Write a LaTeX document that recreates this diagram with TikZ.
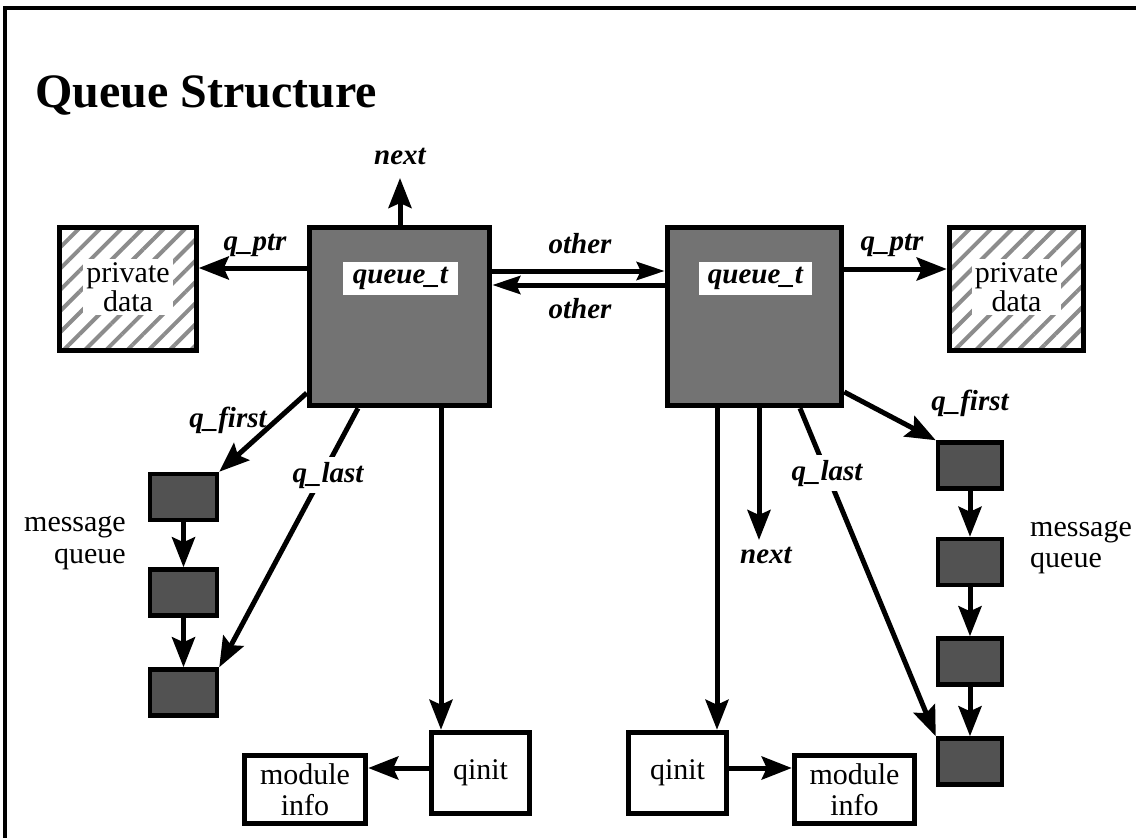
\documentclass[tikz,border=0pt]{standalone}
\usepackage{fontspec}
\setmainfont{Liberation Serif}
\usetikzlibrary{arrows.meta,patterns.meta}
\begin{document}
\begin{tikzpicture}[x=1pt,y=-1pt,
  conn/.style={line width=5pt, -{Stealth[length=30pt,width=23pt,inset=5pt]}},
  plainline/.style={line width=3.5pt},
  qbox/.style={draw, line width=5.5pt, fill=black!55, minimum height=178pt, inner sep=0pt},
  qlabel/.style={fill=white, inner sep=0pt, minimum height=33pt, font=\fontsize{29}{31}\selectfont\bfseries\itshape},
  pbox/.style={draw, line width=5pt, preaction={fill=white}, pattern={Lines[angle=45,distance=15pt,line width=4pt]}, pattern color=black!45, minimum height=123.5pt, inner sep=0pt},
  ptext/.style={fill=white, inner sep=3pt, align=center, font=\fontsize{30}{29}\selectfont},
  mbox/.style={draw, line width=4.5pt, fill=black!68, minimum height=46pt, inner sep=0pt},
  wbox/.style={draw, line width=5pt, fill=white, align=center, inner sep=0pt, font=\fontsize{30}{31}\selectfont},
  lab/.style={font=\fontsize{29}{31}\selectfont\bfseries\itshape, inner sep=1pt},
  cutlab/.style={lab, fill=white, inner sep=5pt},
  txt/.style={font=\fontsize{30}{31}\selectfont, inner sep=0pt},
]
\useasboundingbox (0,0) rectangle (1138,838);
\draw[plainline] (1136,8) -- (5,8) -- (5,838);

\node[anchor=base west, font=\fontsize{48}{50}\selectfont\bfseries, inner sep=0pt] (title) at (35,107) {Queue Structure};

% queue_t boxes
\node[qbox, minimum width=180pt] (L) at (399.5,316.5) {};
\node[qlabel, minimum width=115pt] (Lt) at (400.5,278.5) {queue\_t};
\node[qbox, minimum width=174pt] (R) at (754.5,316.5) {};
\node[qlabel, minimum width=113pt] (Rt) at (755.5,278.5) {queue\_t};

% private data
\node[pbox, minimum width=137.5pt] (PL) at (128,289) {};
\node[ptext] (PLt) at (128,287) {private\\data};
\node[pbox, minimum width=134.5pt] (PR) at (1016.5,289) {};
\node[ptext] (PRt) at (1016.5,287) {private\\data};

% message boxes left
\node[mbox, minimum width=67pt] (M1) at (183.5,497) {};
\node[mbox, minimum width=67pt] (M2) at (183.5,592.5) {};
\node[mbox, minimum width=67pt] (M3) at (183.5,692.5) {};
% message boxes right
\node[mbox, minimum width=64pt] (N1) at (970,465.5) {};
\node[mbox, minimum width=64pt] (N2) at (970,562) {};
\node[mbox, minimum width=64pt] (N3) at (970,661.5) {};
\node[mbox, minimum width=64pt] (N4) at (970,761.5) {};

% qinit and module info
\node[wbox, minimum width=98.5pt, minimum height=81.5pt] (QL) at (480.5,773) {qinit};
\node[wbox, minimum width=98.5pt, minimum height=81.5pt] (QR) at (677.5,773) {qinit};
\node[wbox, minimum width=121.5pt, minimum height=68.5pt] (ML) at (305,789.5) {module\\info};
\node[wbox, minimum width=120.5pt, minimum height=68.5pt] (MR) at (854.5,789.5) {module\\info};

% message queue texts
\node[txt, anchor=base east] (mqL1) at (126,531) {message};
\node[txt, anchor=base east] (mqL2) at (126,563) {queue};
\node[txt, anchor=base west] (mqR1) at (1030,536) {message};
\node[txt, anchor=base west] (mqR2) at (1030,567) {queue};

% free ends
\coordinate (nLend) at (400,178);
\coordinate (nRend) at (759,540);

% connectors
\draw[conn] (L.north -| nLend) -- (nLend);
\draw[conn] (L.west |- 0,268) -- (PL.east |- 0,268);
\draw[conn, -{Stealth[length=28pt,width=18pt,inset=4pt]}] (L.east |- 0,271) -- (R.west |- 0,271);
\draw[conn, -{Stealth[length=28pt,width=18pt,inset=4pt]}] (R.west |- 0,285) -- (L.east |- 0,285);
\draw[conn] (R.east |- 0,269) -- (PR.west |- 0,269);

\draw[conn] (L.west |- 0,393) -- (M1.north east);
\draw[conn] (L.south -| 358,0) -- (M3.north east);
\draw[conn] (L.south -| 441,0) -- (QL.north -| 441,0);
\draw[conn] (QL.west |- 0,768) -- (ML.east |- 0,768);
\draw[conn] (M1.south) -- (M2.north);
\draw[conn] (M2.south) -- (M3.north);

\draw[conn] (R.south -| 717,0) -- (QR.north -| 717,0);
\draw[conn] (R.south -| nRend) -- (nRend);
\draw[conn] (R.south -| 800,0) -- (N4.north west);
\draw[conn] (R.east |- 0,392) -- (N1.north west);
\draw[conn] (QR.east |- 0,768) -- (MR.west |- 0,768);
\draw[conn] (N1.south) -- (N2.north);
\draw[conn] (N2.south) -- (N3.north);
\draw[conn] (N3.south) -- (N4.north);

% labels
\node[lab, anchor=base] (lnextL) at (400,164) {next};
\node[lab, anchor=base] (lptrL) at (255,250) {q\_ptr};
\node[lab, anchor=base] (lotherT) at (580,253) {other};
\node[lab, anchor=base] (lotherB) at (580,318) {other};
\node[lab, anchor=base] (lptrR) at (892,250) {q\_ptr};
\node[lab, anchor=base] (lfirstL) at (228,427) {q\_first};
\node[cutlab, anchor=base] (llastL) at (328,482) {q\_last};
\node[cutlab, anchor=base] (llastR) at (827,480) {q\_last};
\node[lab, anchor=base] (lfirstR) at (970,410) {q\_first};
\node[lab, anchor=base] (lnextR) at (766,563) {next};
\end{tikzpicture}
\end{document}
